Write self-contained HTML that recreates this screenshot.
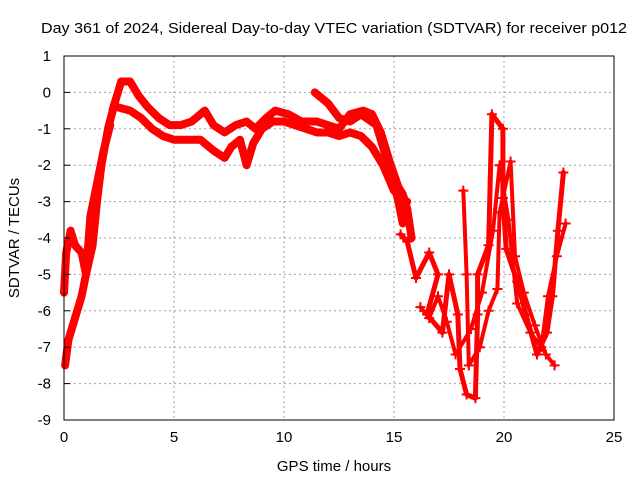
<!DOCTYPE html>
<html><head><meta charset="utf-8"><style>
body{margin:0;background:#fff}
svg text{font-family:"Liberation Sans",sans-serif;font-size:15px;fill:#000}
</style></head><body>
<svg id="chart" width="640" height="480">
<text x="334" y="33" text-anchor="middle" textLength="586" lengthAdjust="spacingAndGlyphs">Day 361 of 2024, Sidereal Day-to-day VTEC variation (SDTVAR) for receiver p012</text>
<text transform="translate(19,238) rotate(-90)" text-anchor="middle">SDTVAR / TECUs</text>
<text x="334" y="471" text-anchor="middle">GPS time / hours</text>
<g id="grid"></g>
<g id="series"></g>
<rect x="64" y="56" width="550" height="364" fill="none" stroke="#000" stroke-width="1"/>
<g id="ticks"></g>
</svg>
<script>
const xTicks=[0,5,10,15,20,25];
const yTicks=[1,0,-1,-2,-3,-4,-5,-6,-7,-8,-9];
const traceA=[[2.2,-0.5],[2.6,0.3],[3.0,0.3],[3.4,-0.1],[3.8,-0.4],[4.3,-0.7],[4.8,-0.9],[5.3,-0.9],[5.8,-0.8],[6.2,-0.6],[6.4,-0.5],[6.8,-0.9],[7.3,-1.1],[7.8,-0.9],[8.3,-0.8],[8.7,-1.0],[9.2,-0.7],[9.6,-0.5],[10.2,-0.6],[10.8,-0.8],[11.5,-0.8],[12.0,-0.9],[12.5,-1.0],[13.0,-0.6],[13.6,-0.5],[14.0,-0.6],[14.4,-1.1],[14.8,-1.9],[15.2,-2.6],[15.4,-2.8],[15.6,-3.2],[15.8,-4.0]];
const traceB=[[2.4,-0.4],[3.0,-0.5],[3.5,-0.7],[4.0,-1.0],[4.5,-1.2],[5.0,-1.3],[5.5,-1.3],[6.2,-1.3],[6.8,-1.6],[7.3,-1.8],[7.6,-1.5],[8.0,-1.3],[8.3,-2.0],[8.6,-1.4],[9.0,-1.0],[9.5,-0.8],[10.0,-0.8],[10.5,-0.9],[11.0,-1.0],[11.5,-1.1],[12.0,-1.1],[12.5,-1.2],[13.0,-1.1],[13.5,-1.2],[14.0,-1.5],[14.5,-2.0],[15.0,-2.7],[15.3,-2.9],[15.6,-3.0]];
const traceC=[[11.4,0.0],[12.0,-0.3],[12.5,-0.7],[13.0,-0.8],[13.5,-0.6],[14.2,-0.9],[14.5,-1.5],[15.0,-2.5],[15.2,-3.0],[15.4,-3.6]];
const traceD=[[0.05,-7.5],[0.2,-6.8],[0.5,-6.2],[0.8,-5.6],[1.0,-5.0],[1.3,-4.2],[1.5,-3.0],[1.7,-2.0],[2.0,-1.0],[2.3,-0.3]];
const traceE=[[0.0,-5.5],[0.1,-4.4],[0.3,-3.8],[0.5,-4.2],[0.8,-4.4],[1.0,-5.0],[1.2,-3.4],[1.5,-2.5],[1.8,-1.6],[2.1,-0.9]];
const traceF=[[15.3,-3.9],[15.6,-4.1],[16.0,-5.1],[16.6,-4.4],[17.0,-5.0],[16.5,-6.1],[17.2,-6.6],[17.5,-5.0],[17.9,-6.1],[18.0,-7.6],[18.3,-8.3],[18.7,-8.4],[18.8,-6.1],[18.8,-5.0],[19.3,-4.2],[19.45,-0.6],[19.95,-1.0],[19.95,-2.9],[20.1,-4.3],[20.6,-5.2],[21.0,-6.1],[21.5,-7.2],[21.95,-6.6],[22.2,-5.6],[22.45,-3.8],[22.7,-2.2]];
const traceG=[[18.15,-2.7],[18.3,-5.0],[18.4,-7.5],[18.9,-7.0],[19.3,-6.0],[19.7,-5.4],[19.8,-3.3],[20.3,-1.9],[20.5,-4.5],[20.9,-5.5],[21.4,-6.4],[21.9,-7.2],[22.3,-7.5]];
const traceH=[[16.2,-5.9],[16.6,-6.2],[17.0,-5.6],[17.4,-6.3],[17.8,-7.2],[18.5,-6.5],[19.0,-5.5],[19.5,-3.8],[19.8,-2.0],[20.2,-3.5],[20.6,-5.8],[21.2,-6.6],[21.7,-7.0],[22.0,-5.6],[22.4,-4.5],[22.8,-3.6]];
const X=h=>64+22*h, Y=v=>56+36.4*(1-v);
const NS='http://www.w3.org/2000/svg';
const grid=document.getElementById('grid'),ticks=document.getElementById('ticks'),ser=document.getElementById('series');
function mk(t,a,p){const e=document.createElementNS(NS,t);for(const k in a)e.setAttribute(k,a[k]);p.appendChild(e);return e;}
xTicks.forEach(t=>{
 if(t>0&&t<25){const g=mk('line',{x1:X(t),x2:X(t),y1:56,y2:420,stroke:'#a0a0a0','stroke-dasharray':'2,3'},grid);
 
 }
 const l=mk('text',{x:X(t),y:442,'text-anchor':'middle'},ticks);l.textContent=t;
 
 
});
yTicks.forEach(t=>{
 if(t<1&&t>-9){const g=mk('line',{x1:64,x2:614,y1:Y(t),y2:Y(t),stroke:'#a0a0a0','stroke-dasharray':'2,3'},grid);
 
 }
 mk('line',{x1:64,x2:70,y1:Y(t),y2:Y(t),stroke:'#000'},ticks);
 const l=mk('text',{x:51,y:Y(t)+5,'text-anchor':'end'},ticks);l.textContent=t;
 
 
});
function draw(tr,w,name,marks){
 const p=mk('polyline',{points:tr.map(d=>X(d[0])+','+Y(d[1])).join(' '),fill:'none',stroke:'#f00','stroke-width':w,'stroke-linejoin':'round','stroke-linecap':'round'},ser);
 
 
 if(marks)tr.forEach(d=>{const m=mk('path',{d:`M${X(d[0])-5},${Y(d[1])}h10M${X(d[0])},${Y(d[1])-5}v10`,stroke:'#f00','stroke-width':2},ser);
 
 });
}
draw(traceA,8,'trace-upper');draw(traceB,8,'trace-lower');draw(traceC,8,'trace-late');
draw(traceD,8,'trace-rise-a');draw(traceE,8,'trace-rise-b');
draw(traceF,5,'trace-evening-a',true);draw(traceG,4,'trace-evening-b',true);draw(traceH,4,'trace-evening-c',true);
</script>
</body></html>
